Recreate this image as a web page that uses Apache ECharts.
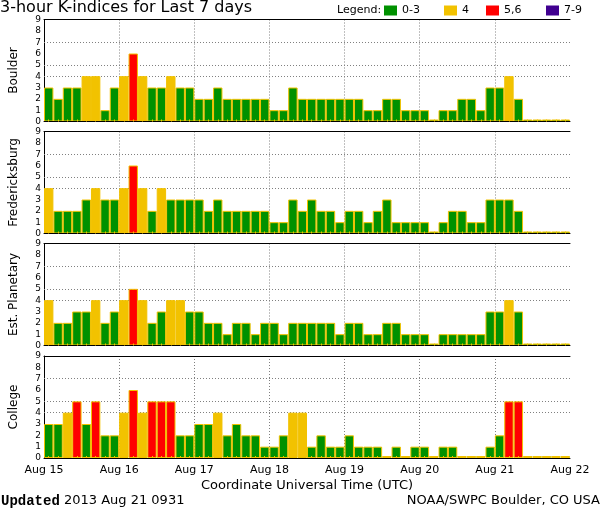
<!DOCTYPE html>
<html><head><meta charset="utf-8">
<script src="https://cdn.jsdelivr.net/npm/echarts@6/dist/echarts.min.js"></script>
<style>html,body{margin:0;padding:0;background:#fff}#c{width:600px;height:510px}</style>
</head><body><div id="c"></div>
<script>
// ---- data ----
const stations = ['Boulder', 'Fredericksburg', 'Est. Planetary', 'College'];
const dayLabels = ['Aug 15', 'Aug 16', 'Aug 17', 'Aug 18', 'Aug 19', 'Aug 20', 'Aug 21', 'Aug 22'];
const slotHours = ['00', '03', '06', '09', '12', '15', '18', '21'];
const boulder        = [3,2,3,3,4,4,1,3, 4,6,4,3,3,4,3,3, 2,2,3,2,2,2,2,2, 1,1,3,2,2,2,2,2, 2,2,1,1,2,2,1,1, 1,0,1,1,2,2,1,3, 3,4,2,0,0,0,0,0];
const fredericksburg = [4,2,2,2,3,4,3,3, 4,6,4,2,4,3,3,3, 3,2,3,2,2,2,2,2, 1,1,3,2,3,2,2,1, 2,2,1,2,3,1,1,1, 1,0,1,2,2,1,1,3, 3,3,2,0,0,0,0,0];
const planetary      = [4,2,2,3,3,4,2,3, 4,5,4,2,3,4,4,3, 3,2,2,1,2,2,1,2, 2,1,2,2,2,2,2,1, 2,2,1,1,2,2,1,1, 1,0,1,1,1,1,1,3, 3,4,3,0,0,0,0,0];
const college        = [3,3,4,5,3,5,2,2, 4,6,4,5,5,5,2,2, 3,3,4,2,3,2,2,1, 1,2,4,4,1,2,1,1, 2,1,1,1,0,1,0,1, 1,0,1,1,0,0,0,1, 2,5,5,0,0,0,0,0];
const panelValues = [boulder, fredericksburg, planetary, college];
const refLevels = [4, 5, 7];
const legendNames = ['0-3', '4', '5,6', '7-9'];

// ---- style ----
const GREEN = '#009100', YELLOW = '#f2c200', RED = '#ff0000', PURPLE = '#400090';
const legendColors = [GREEN, YELLOW, RED, PURPLE];
const FONT = 'DejaVu Sans';
function kColor(v) { return v <= 3 ? GREEN : v === 4 ? YELLOW : v <= 6 ? RED : PURPLE; }

const slots = [];
dayLabels.slice(0, 7).forEach(d => slotHours.forEach(h => slots.push(d + ' ' + h)));

const gridTops = [19.5, 131.5, 243.5, 356];
const grid = [], xAxis = [], yAxis = [], series = [];
gridTops.forEach((top, i) => {
  grid.push({ left: 36, width: 534, top: top, height: 102 });
  xAxis.push({
    type: 'category', gridIndex: i, data: slots, position: 'bottom', boundaryGap: true, z: 5,
    axisLine: { show: true, lineStyle: { color: '#000', width: 1 } },
    axisTick: { show: true, inside: true, length: 2, alignWithLabel: true, interval: 0, lineStyle: { color: YELLOW } },
    axisLabel: { show: false }, splitLine: { show: false }
  });
  xAxis.push({
    type: 'value', gridIndex: i, min: 0, max: 7, interval: 1, position: 'bottom', z: 0,
    axisLine: { show: false }, axisTick: { show: false },
    axisLabel: { show: i === 3, formatter: v => dayLabels[v], color: '#000', fontFamily: FONT, fontSize: 11, margin: 7 },
    splitLine: { show: true, showMinLine: false, showMaxLine: false, lineStyle: { color: '#808080', width: 1, type: [1, 2] } },
    name: i === 3 ? 'Coordinate Universal Time (UTC)' : '', nameLocation: 'middle', nameGap: 21,
    nameTextStyle: { color: '#000', fontFamily: FONT, fontSize: 13 }
  });
  xAxis.push({
    type: 'value', gridIndex: i, min: 0, max: 1, position: 'top',
    axisLine: { show: true, lineStyle: { color: '#000', width: 1 } },
    axisTick: { show: false }, axisLabel: { show: false }, splitLine: { show: false }
  });
  yAxis.push({
    type: 'value', gridIndex: i, min: 0, max: 9, interval: 1, position: 'left',
    axisLine: { show: true, lineStyle: { color: '#000', width: 1 } }, axisTick: { show: false },
    axisLabel: { color: '#000', fontFamily: FONT, fontSize: 9, margin: 3 },
    splitLine: { show: false },
    name: stations[i], nameLocation: 'middle', nameGap: 24,
    nameTextStyle: { color: '#000', fontFamily: FONT, fontSize: 12 }
  });
  yAxis.push({
    type: 'value', gridIndex: i, min: 0, max: 9, position: 'right',
    axisLine: { show: true, lineStyle: { color: '#000', width: 1, type: [2, 1] } },
    axisTick: { show: false }, axisLabel: { show: false }, splitLine: { show: false }
  });
  series.push({
    type: 'bar', xAxisIndex: 3 * i, yAxisIndex: 2 * i, barCategoryGap: '0%', barMinHeight: 2, z: 2,
    itemStyle: { borderColor: YELLOW, borderWidth: 1 },
    data: panelValues[i].map(v => ({ value: v, itemStyle: { color: kColor(v) } })),
    markLine: {
      silent: true, symbol: 'none', z: 1, animation: false,
      label: { show: false },
      lineStyle: { color: '#808080', width: 1, type: [1, 2] },
      data: refLevels.map(v => ({ yAxis: v }))
    }
  });
});
legendNames.forEach((n, k) => {
  series.push({ type: 'line', name: n, data: [], xAxisIndex: 0, yAxisIndex: 0,
    color: legendColors[k], itemStyle: { color: legendColors[k] }, lineStyle: { color: legendColors[k] } });
});
const legendLefts = [384, 444, 486, 546];
const legend = legendNames.map((n, k) => ({
  data: [n], left: legendLefts[k], top: 5, padding: 0, icon: 'rect', itemWidth: 13, itemHeight: 10,
  itemGap: 5, selectedMode: false,
  textStyle: { color: '#000', fontFamily: FONT, fontSize: 11, padding: [0, 0, 0, 0] }
}));

const chart = echarts.init(document.getElementById('c'), null, { renderer: 'canvas' });
chart.setOption({
  animation: false,
  backgroundColor: '#fff',
  title: [
    { text: '3-hour K-indices for Last 7 days', left: 0, top: 0, padding: 0,
      textStyle: { color: '#000', fontFamily: FONT, fontSize: 16, fontWeight: 'normal' } },
    { text: 'Legend:', left: 337, top: 5, padding: 0,
      textStyle: { color: '#000', fontFamily: FONT, fontSize: 11, fontWeight: 'normal' } },
    { text: '{b|Updated} 2013 Aug 21 0931', left: 1, top: 494, padding: 0,
      textStyle: { color: '#000', fontFamily: FONT, fontSize: 13, fontWeight: 'normal',
        rich: { b: { fontFamily: 'Liberation Mono', fontWeight: 'bold', fontSize: 14, color: '#000' } } } },
    { text: 'NOAA/SWPC Boulder, CO USA', right: 0, top: 494, padding: 0,
      textStyle: { color: '#000', fontFamily: FONT, fontSize: 13, fontWeight: 'normal' } }
  ],
  legend: legend,
  grid: grid, xAxis: xAxis, yAxis: yAxis, series: series
});
</script></body></html>
